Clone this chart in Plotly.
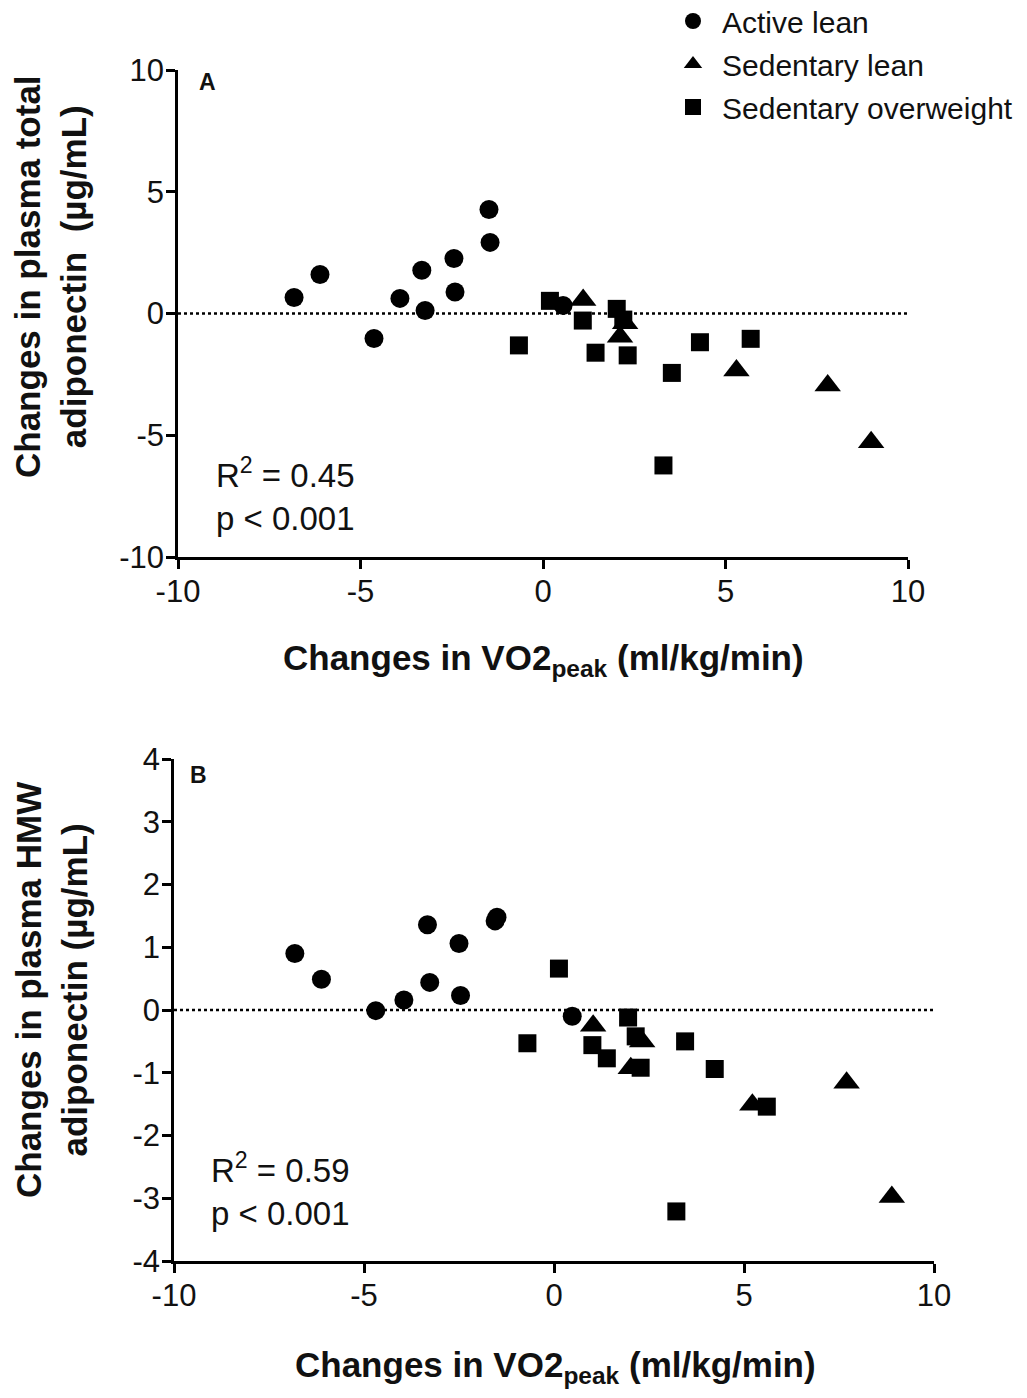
import plotly.graph_objects as go

# ---------------- data ----------------
# Panel A: changes in plasma total adiponectin vs changes in VO2peak
a_active_x = [-6.82, -6.11, -4.63, -3.92, -3.32, -3.23, -2.44, -2.41, -1.48, -1.45, 0.55]
a_active_y = [0.66, 1.60, -1.03, 0.62, 1.78, 0.12, 2.26, 0.88, 4.27, 2.92, 0.33]
a_sedlean_x = [1.10, 2.25, 2.11, 5.30, 7.80, 8.99]
a_sedlean_y = [0.55, -0.40, -0.95, -2.34, -2.96, -5.29]
a_sedow_x = [-0.66, 0.19, 1.09, 1.44, 2.02, 2.20, 2.32, 3.30, 3.53, 4.30, 5.69]
a_sedow_y = [-1.31, 0.52, -0.29, -1.61, 0.19, -0.25, -1.72, -6.24, -2.44, -1.18, -1.04]

# Panel B: changes in plasma HMW adiponectin vs changes in VO2peak
b_active_x = [-6.82, -6.12, -4.69, -3.95, -3.33, -3.27, -2.50, -2.46, -1.55, -1.50, 0.48]
b_active_y = [0.90, 0.49, -0.01, 0.16, 1.36, 0.44, 1.06, 0.23, 1.42, 1.48, -0.10]
b_sedlean_x = [1.03, 2.32, 2.02, 5.22, 7.70, 8.89]
b_sedlean_y = [-0.25, -0.50, -0.93, -1.51, -1.16, -2.98]
b_sedow_x = [-0.70, 0.13, 1.01, 1.39, 1.95, 2.15, 2.28, 3.22, 3.45, 4.23, 5.60]
b_sedow_y = [-0.53, 0.66, -0.56, -0.77, -0.12, -0.42, -0.92, -3.21, -0.50, -0.94, -1.54]

group_names = ["Active lean", "Sedentary lean", "Sedentary overweight"]
a_ticks_x = [-10, -5, 0, 5, 10]
a_ticks_y = [-10, -5, 0, 5, 10]
b_ticks_x = [-10, -5, 0, 5, 10]
b_ticks_y = [-4, -3, -2, -1, 0, 1, 2, 3, 4]
stats_a = ("0.45", "0.001")
stats_b = ("0.59", "0.001")

# ---------------- layout helpers ----------------
OFF = 8                      # default page body margin
W, H = 1027 - OFF, 1398 - OFF
FONT = "Arial, Liberation Sans, Helvetica, sans-serif"
INK = "#111111"


def px_x(p):
    """screen pixel x -> paper fraction"""
    return (p - OFF) / W


def px_y(p):
    """screen pixel y -> paper fraction"""
    return 1 - (p - OFF) / H


def labels(vals):
    return [str(v) for v in vals]  # plain hyphen-minus like the original


fig = go.Figure()

symbols = ["circle", "triangle-up", "square"]
sizes = [19, 23, 18]
panels = [
    ("x", "y", [(a_active_x, a_active_y), (a_sedlean_x, a_sedlean_y), (a_sedow_x, a_sedow_y)], True),
    ("x2", "y2", [(b_active_x, b_active_y), (b_sedlean_x, b_sedlean_y), (b_sedow_x, b_sedow_y)], False),
]
for xa, ya, series, show in panels:
    for i, (xs, ys) in enumerate(series):
        fig.add_trace(go.Scatter(
            x=xs, y=ys, mode="markers", xaxis=xa, yaxis=ya,
            name=group_names[i], showlegend=show, legendgroup=group_names[i],
            marker=dict(symbol=symbols[i], size=sizes[i], color="black",
                        line=dict(width=0)),
        ))

# dotted zero lines
fig.add_shape(type="line", xref="x", yref="y", x0=a_ticks_x[0], x1=a_ticks_x[-1], y0=0, y1=0,
              line=dict(color="black", width=2.5, dash="dot"))
fig.add_shape(type="line", xref="x2", yref="y2", x0=b_ticks_x[0], x1=b_ticks_x[-1], y0=0, y1=0,
              line=dict(color="black", width=2.5, dash="dot"))

axis_common = dict(
    showline=True, linecolor="black", linewidth=2.5, mirror=False,
    ticks="outside", ticklen=9, tickwidth=2.5, tickcolor="black",
    showgrid=False, zeroline=False,
    tickfont=dict(family=FONT, size=31, color=INK),
    ticklabelstandoff=-4,
    fixedrange=True,
)

fig.update_layout(
    width=W, height=H,
    margin=dict(l=0, r=0, t=0, b=0, autoexpand=False),
    paper_bgcolor="white", plot_bgcolor="white",
    font=dict(family=FONT, color=INK),
    xaxis=dict(domain=[px_x(178), px_x(908)], anchor="y", range=[-10, 10],
               tickvals=a_ticks_x, ticktext=labels(a_ticks_x), **axis_common),
    yaxis=dict(domain=[px_y(557), px_y(70)], anchor="x", range=[-10, 10],
               tickvals=a_ticks_y, ticktext=labels(a_ticks_y), **axis_common),
    xaxis2=dict(domain=[px_x(174), px_x(934)], anchor="y2", range=[-10, 10],
                tickvals=b_ticks_x, ticktext=labels(b_ticks_x), **axis_common),
    yaxis2=dict(domain=[px_y(1261), px_y(759)], anchor="x2", range=[-4, 4],
                tickvals=b_ticks_y, ticktext=labels(b_ticks_y), **axis_common),
    showlegend=True,
    legend=dict(x=px_x(664), y=px_y(-5), xanchor="left", yanchor="top",
                font=dict(family=FONT, size=30, color=INK),
                itemwidth=48, tracegroupgap=1, traceorder="grouped",
                bgcolor="rgba(0,0,0,0)"),
)

annotations = [
    # panel letters
    dict(text="<b>A</b>", x=px_x(207), y=px_y(82), font=dict(size=23)),
    dict(text="<b>B</b>", x=px_x(198), y=px_y(775), font=dict(size=23)),
    # stats
    dict(text=f"R<sup>2</sup> = {stats_a[0]}<br>p &lt; {stats_a[1]}", x=px_x(214), y=px_y(494),
         xanchor="left", align="left", font=dict(size=33)),
    dict(text=f"R<sup>2</sup> = {stats_b[0]}<br>p &lt; {stats_b[1]}", x=px_x(209), y=px_y(1189),
         xanchor="left", align="left", font=dict(size=33)),
    # x titles
    dict(text="<b>Changes in VO2<sub>peak</sub> (ml/kg/min)</b>", x=px_x(543), y=px_y(660),
         font=dict(size=35)),
    dict(text="<b>Changes in VO2<sub>peak</sub> (ml/kg/min)</b>", x=px_x(555), y=px_y(1367),
         font=dict(size=35)),
    # y titles
    dict(text="<b>Changes in plasma total<br>adiponectin  (µg/mL)</b>", x=px_x(51), y=px_y(277),
         textangle=-90, font=dict(size=35)),
    dict(text="<b>Changes in plasma HMW<br>adiponectin (µg/mL)</b>", x=px_x(51), y=px_y(990),
         textangle=-90, font=dict(size=35)),
]
for a in annotations:
    a.setdefault("xanchor", "center")
    a.setdefault("yanchor", "middle")
    a["xref"] = "paper"
    a["yref"] = "paper"
    a["showarrow"] = False
    f = a.get("font", {})
    f.setdefault("family", FONT)
    f.setdefault("color", INK)
    a["font"] = f
    fig.add_annotation(**a)

fig.write_html("out.html")
